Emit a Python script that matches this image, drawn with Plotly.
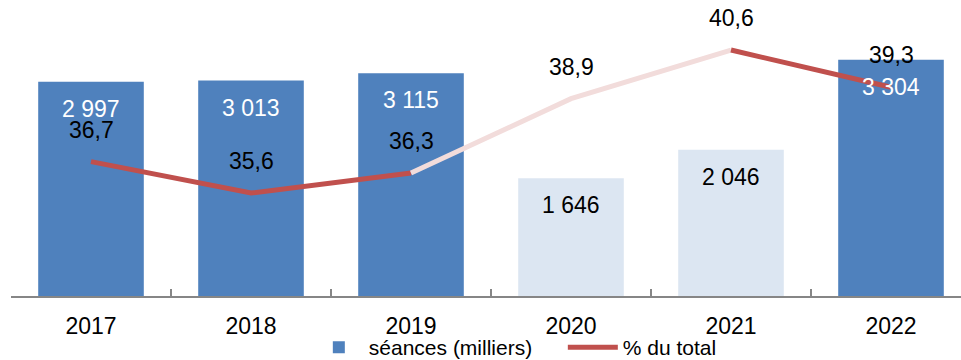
import plotly.graph_objects as go

# Data
years = ["2017", "2018", "2019", "2020", "2021", "2022"]
seances = [2997, 3013, 3115, 1646, 2046, 3304]
seance_labels = ["2 997", "3 013", "3 115", "1 646", "2 046", "3 304"]
pct_total = [36.7, 35.6, 36.3, 38.9, 40.6, 39.3]
pct_labels = ["36,7", "35,6", "36,3", "38,9", "40,6", "39,3"]
highlight = [False, False, False, True, True, False]  # years 2020-2021 shown faded

DARK_BLUE = "#4F81BD"
LIGHT_BLUE = "#DCE6F2"
RED = "#C0504D"
PINK = "#F2DCDB"
FONT = "Liberation Sans, Arial, sans-serif"

bar_colors = [LIGHT_BLUE if h else DARK_BLUE for h in highlight]

fig = go.Figure()

fig.add_trace(go.Bar(
    x=years, y=seances, name="séances (milliers)",
    marker=dict(color=bar_colors, line=dict(width=0)),
    width=0.66, hoverinfo="skip",
))

# Line segments: solid red outside the faded period, pink inside it
segments = [(0, 3, RED, True), (2, 5, PINK, False), (4, 6, RED, False)]
for a, b, col, show in segments:
    fig.add_trace(go.Scatter(
        x=years[a:b], y=pct_total[a:b], yaxis="y2", mode="lines",
        name="% du total", showlegend=show,
        line=dict(color=col, width=5), hoverinfo="skip",
    ))

annotations = []
for i, (v, lab, h) in enumerate(zip(seances, seance_labels, highlight)):
    annotations.append(dict(
        x=i, y=v, xref="x", yref="y", text=lab, showarrow=False,
        yshift=-27, yanchor="middle",
        font=dict(family=FONT, size=23, color="black" if h else "white"),
    ))
for i, (v, lab) in enumerate(zip(pct_total, pct_labels)):
    annotations.append(dict(
        x=i, y=v, xref="x", yref="y2", text=lab, showarrow=False,
        yshift=32, yanchor="middle",
        font=dict(family=FONT, size=23, color="black"),
    ))

fig.update_layout(
    width=961, height=360,
    margin=dict(l=11, r=0, t=10, b=64, autoexpand=False),
    paper_bgcolor="white", plot_bgcolor="white",
    font=dict(family=FONT, size=23, color="black"),
    xaxis=dict(
        type="category", range=[-0.5, 5.4375],
        showline=True, linecolor="#868686", linewidth=2,
        ticks="inside", ticklen=7, tickwidth=1.5, tickcolor="#868686",
        tickson="boundaries", showgrid=False, zeroline=False,
        ticklabelstandoff=8,
        tickfont=dict(family=FONT, size=23, color="black"),
    ),
    yaxis=dict(range=[0, 4000], showticklabels=False, showgrid=False,
               zeroline=False, showline=False, ticks=""),
    yaxis2=dict(range=[32, 42], overlaying="y", side="right",
                showticklabels=False, showgrid=False, zeroline=False,
                showline=False, ticks=""),
    legend=dict(
        orientation="h", x=0.3135, xanchor="left", y=-0.18, yanchor="middle",
        bgcolor="rgba(0,0,0,0)",
        font=dict(family=FONT, size=21, color="black"),
        itemwidth=50, entrywidth=189, traceorder="normal",
    ),
    annotations=annotations,
    showlegend=True,
)

fig.write_html("out.html")
